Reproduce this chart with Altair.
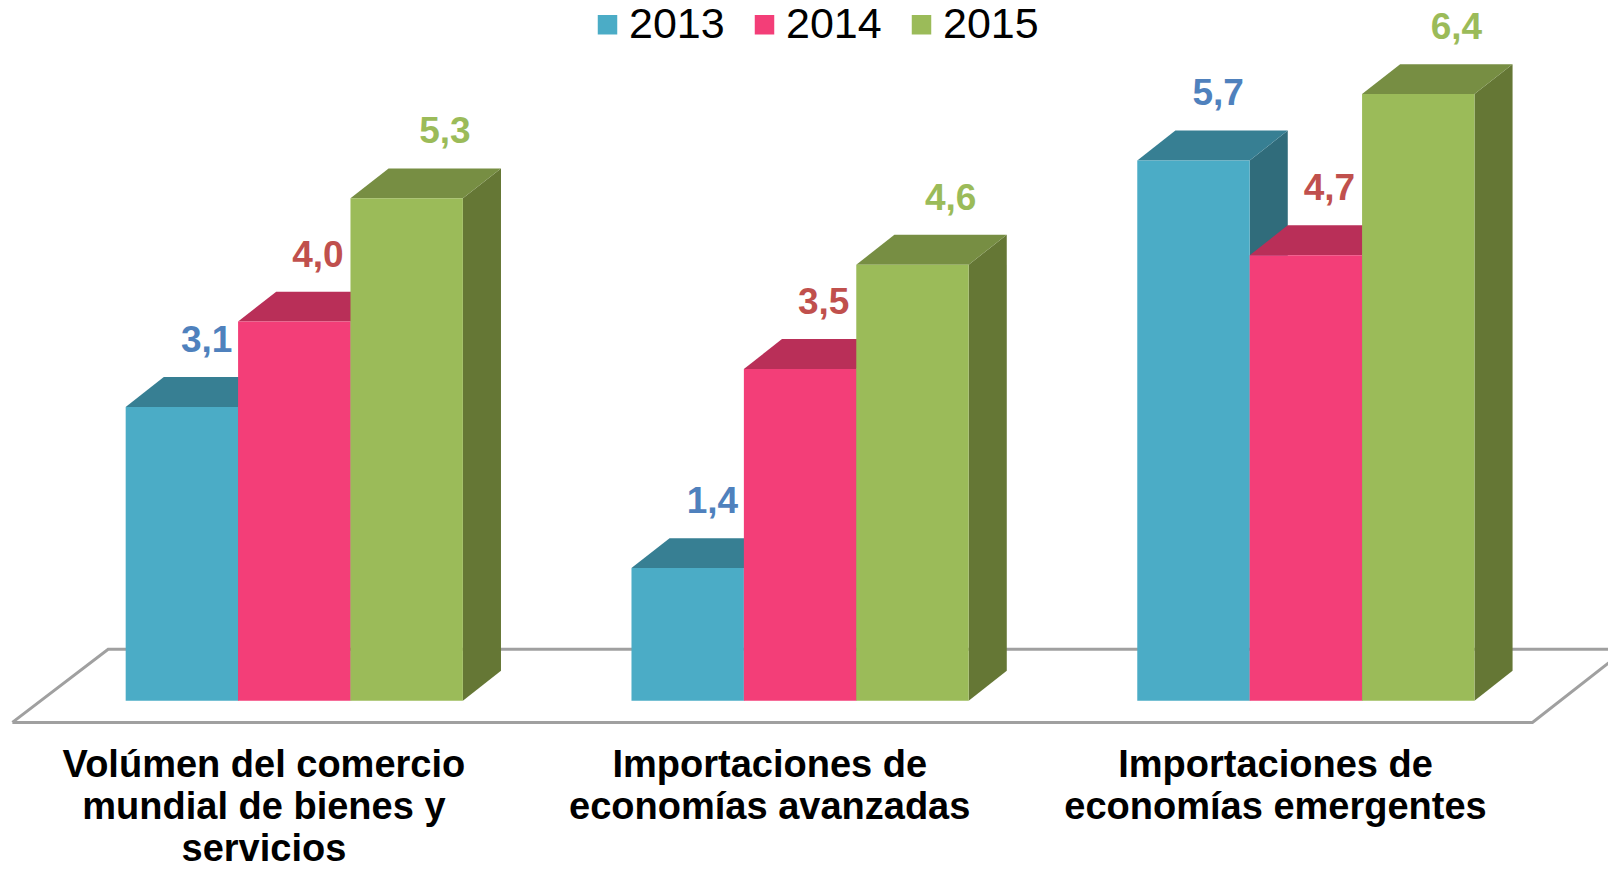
import altair as alt
import pandas as pd

# ---------------- data ----------------
categories = [
    "Volúmen del comercio\nmundial de bienes y\nservicios",
    "Importaciones de\neconomías avanzadas",
    "Importaciones de\neconomías emergentes",
]
years = ["2013", "2014", "2015"]
values_2013 = [3.1, 1.4, 5.7]
values_2014 = [4.0, 3.5, 4.7]
values_2015 = [5.3, 4.6, 6.4]
series_values = [values_2013, values_2014, values_2015]

# ---------------- style ----------------
front_colors = ["#4BACC6", "#F33E78", "#9BBB59"]
top_colors = ["#377F93", "#B92F58", "#778E43"]
side_colors = ["#306C7B", "#A02950", "#657735"]
label_colors = ["#4F81BD", "#C0504D", "#9BBB59"]
label_shift = [0.22, 0.21, 0.34]  # in bar widths

BAR_W = 1.0
GROUP_STEP = 4.5
DX = 0.339   # 3D depth, x (bar widths)
DY = 0.315   # 3D depth, y (value units)

W, H = 1600, 858
X_DOM = [-1.047, 13.188]
Y_TOP = 7.308
Y_DOM = [Y_TOP - H / 94.79, Y_TOP]
FONT = "Liberation Sans"

xs = alt.Scale(domain=X_DOM, nice=False, zero=False)
ys = alt.Scale(domain=Y_DOM, nice=False, zero=False)


def fmt(v):
    return f"{v:.1f}".replace(".", ",")


n_series = len(years)
first_x0 = 0.0
last_x1 = (len(categories) - 1) * GROUP_STEP + n_series * BAR_W

# ---------------- floor ----------------
floor_front, floor_back = -0.229, 0.543
floor_df = pd.DataFrame({
    "i": [0, 1, 2, 3, 4],
    "x": [first_x0 - 1.008, first_x0 - 0.156, last_x1 + 1.35, last_x1 + 0.516, first_x0 - 1.008],
    "y": [floor_front, floor_back, floor_back, floor_front, floor_front],
})
floor = alt.Chart(floor_df).mark_line(color="#A0A0A0", strokeWidth=3, strokeJoin="miter").encode(
    x=alt.X("x:Q", scale=xs, axis=None),
    y=alt.Y("y:Q", scale=ys, axis=None),
    order=alt.Order("i:Q"),
)

legend = alt.Legend(
    title=None, orient="none", legendX=578, legendY=-5, direction="horizontal",
    symbolType="square", symbolSize=380, symbolStrokeWidth=0,
    labelFontSize=43, labelFont=FONT, labelColor="#000000",
    columnPadding=18, labelOffset=0, padding=0,
)

layers = [floor]
for s, yr in enumerate(years):
    front_rows, top_rows, side_rows, label_rows = [], [], [], []
    for c in range(len(categories)):
        v = series_values[s][c]
        x0 = c * GROUP_STEP + s * BAR_W
        x1 = x0 + BAR_W
        front_rows.append(dict(cat=c, year=yr, x0=x0, x1=x1, base=0.0, v=v))
        top_rows += [
            dict(cat=c, x=x0, lo=v, hi=v),
            dict(cat=c, x=x0 + DX, lo=v, hi=v + DY),
            dict(cat=c, x=x1, lo=v, hi=v + DY),
            dict(cat=c, x=x1 + DX, lo=v + DY, hi=v + DY),
        ]
        side_rows += [
            dict(cat=c, x=x1, lo=0.0, hi=v),
            dict(cat=c, x=x1 + DX, lo=DY, hi=v + DY),
        ]
        label_rows.append(dict(x=(x0 + x1) / 2 + label_shift[s], v=v, text=fmt(v)))

    side = alt.Chart(pd.DataFrame(side_rows)).mark_area(color=side_colors[s], opacity=1).encode(
        x=alt.X("x:Q", scale=xs, axis=None),
        y=alt.Y("lo:Q", scale=ys, axis=None, stack=None),
        y2="hi:Q",
        detail="cat:N",
    )
    top = alt.Chart(pd.DataFrame(top_rows)).mark_area(color=top_colors[s], opacity=1).encode(
        x=alt.X("x:Q", scale=xs, axis=None),
        y=alt.Y("lo:Q", scale=ys, axis=None, stack=None),
        y2="hi:Q",
        detail="cat:N",
    )
    front = alt.Chart(pd.DataFrame(front_rows)).mark_rect(opacity=1).encode(
        x=alt.X("x0:Q", scale=xs, axis=None),
        x2="x1:Q",
        y=alt.Y("base:Q", scale=ys, axis=None),
        y2="v:Q",
        color=alt.Color("year:N", scale=alt.Scale(domain=years, range=front_colors), legend=legend),
    )
    labels = alt.Chart(pd.DataFrame(label_rows)).mark_text(
        font=FONT, fontWeight="bold", fontSize=37, color=label_colors[s],
        baseline="middle", align="center", dy=-66,
    ).encode(
        x=alt.X("x:Q", scale=xs, axis=None),
        y=alt.Y("v:Q", scale=ys, axis=None),
        text="text:N",
    )
    layers += [side, top, front, labels]

cat_df = pd.DataFrame({
    "x": [c * GROUP_STEP + n_series * BAR_W / 2 - 0.27 for c in range(len(categories))],
    "y": [-0.489] * len(categories),
    "text": categories,
})
cat_text = alt.Chart(cat_df).mark_text(
    font=FONT, fontWeight="bold", fontSize=38, color="#000000",
    baseline="top", align="center", lineBreak="\n", lineHeight=42,
).encode(
    x=alt.X("x:Q", scale=xs, axis=None),
    y=alt.Y("y:Q", scale=ys, axis=None),
    text="text:N",
)
layers.append(cat_text)

chart = alt.layer(*layers).properties(
    width=W, height=H, autosize="none", padding=0, background="white",
).configure_view(stroke=None)

chart.save("out.html", embed_options={"renderer": "svg", "actions": False})
